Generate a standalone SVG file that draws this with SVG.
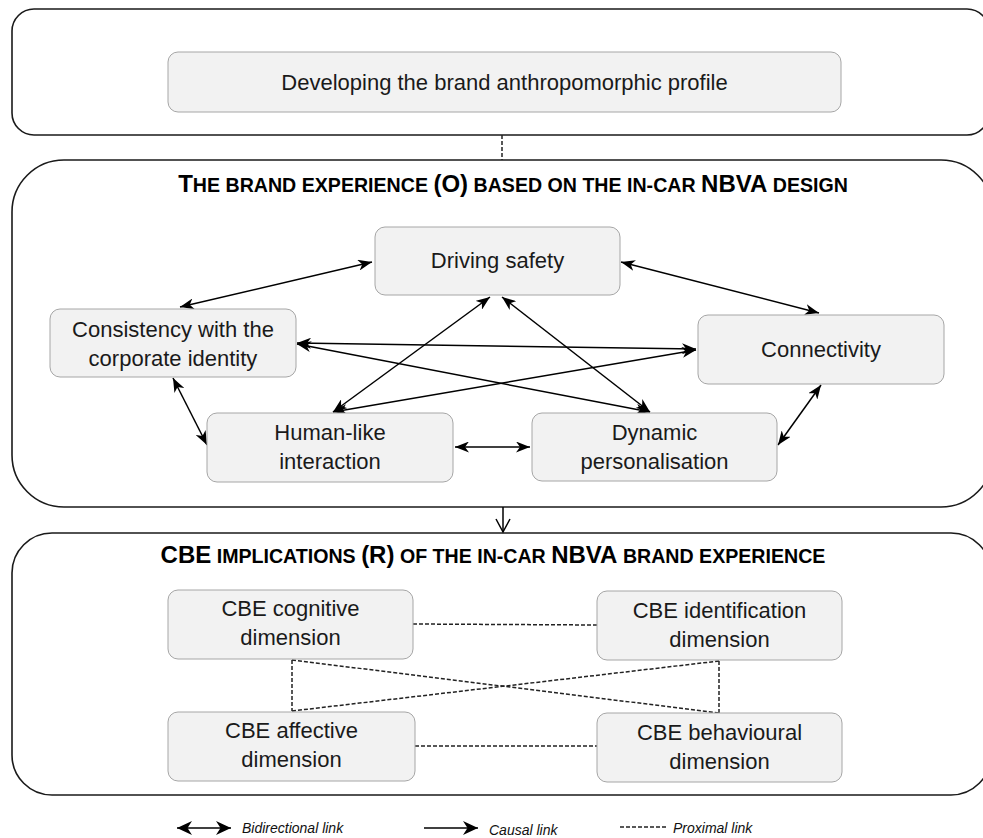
<svg xmlns="http://www.w3.org/2000/svg" width="983" height="838" viewBox="0 0 983 838">
<defs>
<marker id="ah" viewBox="0 0 14 11" refX="14" refY="5.5" markerWidth="14" markerHeight="11" markerUnits="userSpaceOnUse" orient="auto-start-reverse">
<path d="M0,0 L14,5.5 L0,11 L4,5.5 z" fill="#000"/>
</marker>
<marker id="ahL" viewBox="0 0 15 14" refX="15" refY="7" markerWidth="15" markerHeight="14" markerUnits="userSpaceOnUse" orient="auto-start-reverse">
<path d="M0,0 L15,7 L0,14 L4.5,7 z" fill="#000"/>
</marker>
</defs>
<style>
.frame{fill:#fff;stroke:#1a1a1a;stroke-width:1.6}
.node{fill:#f2f2f2;stroke:#a6a6a6;stroke-width:1}
.t{font-family:"Liberation Sans",Arial,sans-serif;font-size:22px;fill:#1a1a1a;text-anchor:middle}
.h{font-family:"Liberation Sans",Arial,sans-serif;font-weight:bold;fill:#000;text-anchor:middle}
.big{font-size:24px}
.sm{font-size:19.6px}
.bi{fill:none;stroke:#000;stroke-width:1.5;marker-start:url(#ah);marker-end:url(#ah)}
.dash{fill:none;stroke:#222;stroke-width:1.5;stroke-dasharray:4 2}
.leg{font-family:"Liberation Sans",Arial,sans-serif;font-style:italic;font-size:14px;fill:#111}
</style>

<g id="frame-profile"><rect class="frame" x="12" y="9" width="977" height="126" rx="22" ry="22"/></g>
<g id="frame-experience">
<rect class="frame" x="12" y="160" width="981" height="347" rx="52" ry="52"/>
<text class="h" x="513" y="192"><tspan class="big">T</tspan><tspan class="sm">HE BRAND EXPERIENCE </tspan><tspan class="big">(O)</tspan><tspan class="sm"> BASED ON THE IN-CAR </tspan><tspan class="big">NBVA</tspan><tspan class="sm"> DESIGN</tspan></text>
</g>
<g id="frame-cbe">
<rect class="frame" x="12" y="533" width="979" height="262" rx="40" ry="40"/>
<text class="h" x="493" y="563"><tspan class="big">CBE</tspan><tspan class="sm"> IMPLICATIONS </tspan><tspan class="big">(R)</tspan><tspan class="sm"> OF THE IN-CAR </tspan><tspan class="big">NBVA</tspan><tspan class="sm"> BRAND EXPERIENCE</tspan></text>
</g>

<g id="connectors">
<line class="dash" x1="502" y1="135" x2="502" y2="160"/>
<line x1="503" y1="507" x2="503" y2="532" stroke="#000" stroke-width="1.5"/>
<polyline points="496,519 503,532 510,519" fill="none" stroke="#000" stroke-width="1.5"/>

<line class="bi" x1="372" y1="262" x2="180" y2="307"/>
<line class="bi" x1="621" y1="262" x2="819" y2="313"/>
<line class="bi" x1="173" y1="378" x2="207" y2="445"/>
<line class="bi" x1="821" y1="385" x2="778" y2="445"/>
<line class="bi" x1="455" y1="447" x2="530" y2="447"/>
<line class="bi" x1="490" y1="297" x2="333" y2="412"/>
<line class="bi" x1="502" y1="297" x2="650" y2="412"/>
<line class="bi" x1="297" y1="343" x2="696" y2="349"/>
<line class="bi" x1="297" y1="344" x2="650" y2="412"/>
<line class="bi" x1="696" y1="350" x2="333" y2="412"/>

<line class="dash" x1="413" y1="624" x2="597" y2="625"/>
<line class="dash" x1="415" y1="746" x2="597" y2="746"/>
<line class="dash" x1="292" y1="660" x2="292" y2="711"/>
<line class="dash" x1="719" y1="661" x2="719" y2="713"/>
<line class="dash" x1="292" y1="660" x2="719" y2="713"/>
<line class="dash" x1="292" y1="711" x2="719" y2="661"/>
</g>

<g id="n-profile"><rect class="node" x="168" y="52" width="673" height="60" rx="10"/><text class="t" x="504.5" y="90">Developing the brand anthropomorphic profile</text></g>
<g id="n-safety"><rect class="node" x="375" y="227" width="245" height="68" rx="10"/><text class="t" x="497.5" y="268">Driving safety</text></g>
<g id="n-consistency"><rect class="node" x="50" y="309" width="246" height="68" rx="10"/><text class="t" x="173" y="337">Consistency with the</text><text class="t" x="173" y="366">corporate identity</text></g>
<g id="n-connectivity"><rect class="node" x="698" y="315" width="246" height="69" rx="10"/><text class="t" x="821" y="357">Connectivity</text></g>
<g id="n-human"><rect class="node" x="207" y="413" width="246" height="69" rx="10"/><text class="t" x="330" y="440">Human-like</text><text class="t" x="330" y="469">interaction</text></g>
<g id="n-dynamic"><rect class="node" x="532" y="413" width="245" height="68" rx="10"/><text class="t" x="654.5" y="440">Dynamic</text><text class="t" x="654.5" y="469">personalisation</text></g>
<g id="n-cognitive"><rect class="node" x="168" y="590" width="245" height="69" rx="10"/><text class="t" x="290.5" y="616">CBE cognitive</text><text class="t" x="290.5" y="645">dimension</text></g>
<g id="n-identification"><rect class="node" x="597" y="591" width="245" height="69" rx="10"/><text class="t" x="719.5" y="618">CBE identification</text><text class="t" x="719.5" y="647">dimension</text></g>
<g id="n-affective"><rect class="node" x="168" y="712" width="247" height="69" rx="10"/><text class="t" x="291.5" y="738">CBE affective</text><text class="t" x="291.5" y="767">dimension</text></g>
<g id="n-behavioural"><rect class="node" x="597" y="713" width="245" height="69" rx="10"/><text class="t" x="719.5" y="740">CBE behavioural</text><text class="t" x="719.5" y="769">dimension</text></g>

<g id="legend">
<line x1="177" y1="828" x2="231" y2="828" stroke="#000" stroke-width="1.6" marker-start="url(#ahL)" marker-end="url(#ahL)"/>
<text class="leg" x="242" y="833">Bidirectional link</text>
<line x1="424" y1="828" x2="478" y2="828" stroke="#000" stroke-width="1.6" marker-end="url(#ahL)"/>
<text class="leg" x="489" y="835">Causal link</text>
<line class="dash" x1="620" y1="827" x2="668" y2="827" stroke-width="1.2" stroke-dasharray="3 2"/>
<text class="leg" x="673" y="833">Proximal link</text>
</g>
</svg>
